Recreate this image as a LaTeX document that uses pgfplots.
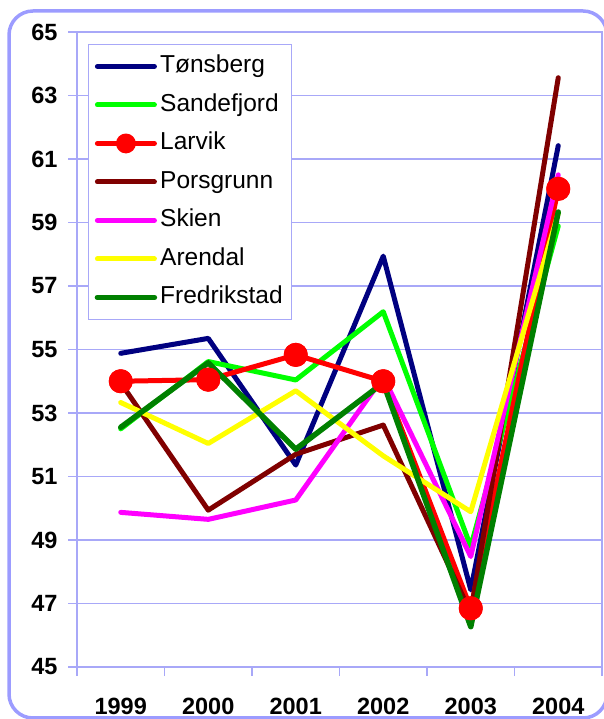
\documentclass[border=0pt]{standalone}
\usepackage{pgfplots}
\pgfplotsset{compat=1.18}
\usepackage{fontspec}
\setmainfont{Liberation Sans}
\definecolor{frameblue}{HTML}{9C9CFF}
\definecolor{gridblue}{HTML}{A8A8F8}
\definecolor{tonsberg}{HTML}{000080}
\definecolor{sandefjord}{HTML}{00FF00}
\definecolor{larvik}{HTML}{FF0000}
\definecolor{porsgrunn}{HTML}{800000}
\definecolor{skien}{HTML}{FF00FF}
\definecolor{arendal}{HTML}{FFFF00}
\definecolor{fredrikstad}{HTML}{008000}
\begin{document}
\begin{tikzpicture}
\useasboundingbox (0pt,0pt) rectangle (603pt,719pt);
% outer rounded frame
\draw[frameblue, line width=3.5pt, rounded corners=24pt] (9pt,708pt) rectangle (607pt,1pt);
\begin{axis}[
  at={(77pt,52pt)}, anchor=south west,
  width=525pt, height=635pt, scale only axis,
  xmin=0.5, xmax=6.5, ymin=45, ymax=65,
  xtick={0.5,1.5,...,6.5},
  x tick label as interval,
  xticklabels={1999,2000,2001,2002,2003,2004},
  ytick={45,47,...,65},
  ymajorgrids,
  grid style={gridblue, line width=1.3pt},
  axis line style={gridblue, line width=1.3pt},
  tick style={gridblue, line width=1.3pt},
  tick align=outside, major tick length=9pt,
  xtick pos=bottom, ytick pos=left,
  /pgf/number format/assume math mode=true,
  /pgf/number format/1000 sep={},
  ticklabel style={font=\fontsize{23.5}{28}\selectfont\bfseries, text=black},
  xticklabel style={yshift=-19pt},
  yticklabel style={xshift=-7pt},
  every axis plot/.append style={line width=5pt, line cap=round, line join=round},
  legend cell align=left,
  legend style={at={(0.021,0.981)}, anchor=north west,
    draw=gridblue, line width=1.3pt, fill=white,
    font=\fontsize{24.5}{29}\selectfont,
    inner xsep=6pt, inner ysep=10pt, row sep=15pt,
    nodes={inner xsep=3pt, inner ysep=0pt, text height=18pt, text depth=5.5pt}},
  legend image code/.code={
    \draw[mark repeat=2, mark phase=2, #1, mark options={scale=0.78}]
      plot coordinates {(0pt,0pt) (28.5pt,0pt) (57pt,0pt)};},
]
\addplot[tonsberg] coordinates {(1,54.88) (2,55.35) (3,51.36) (4,57.94) (5,47.43) (6,61.42)};
\addlegendentry{Tønsberg}
\addplot[sandefjord] coordinates {(1,52.50) (2,54.62) (3,54.04) (4,56.19) (5,48.79) (6,58.89)};
\addlegendentry{Sandefjord}
\addplot[larvik, mark=*, mark size=9.5pt] coordinates {(1,54.00) (2,54.05) (3,54.83) (4,54.00) (5,46.85) (6,60.06)};
\addlegendentry{Larvik}
\addplot[porsgrunn] coordinates {(1,53.95) (2,49.94) (3,51.70) (4,52.62) (5,46.70) (6,63.56)};
\addlegendentry{Porsgrunn}
\addplot[skien] coordinates {(1,49.87) (2,49.65) (3,50.26) (4,54.14) (5,48.48) (6,60.50)};
\addlegendentry{Skien}
\addplot[arendal] coordinates {(1,53.33) (2,52.04) (3,53.70) (4,51.65) (5,49.89) (6,59.30)};
\addlegendentry{Arendal}
\addplot[fredrikstad, line width=5.5pt] coordinates {(1,52.55) (2,54.58) (3,51.86) (4,53.95) (5,46.27) (6,59.33)};
\addlegendentry{Fredrikstad}
% Larvik markers on top
\addplot[larvik, only marks, mark=*, mark size=9.5pt, forget plot] coordinates {(1,54.00) (2,54.05) (3,54.83) (4,54.00) (5,46.85) (6,60.06)};
\end{axis}
\end{tikzpicture}
\end{document}
